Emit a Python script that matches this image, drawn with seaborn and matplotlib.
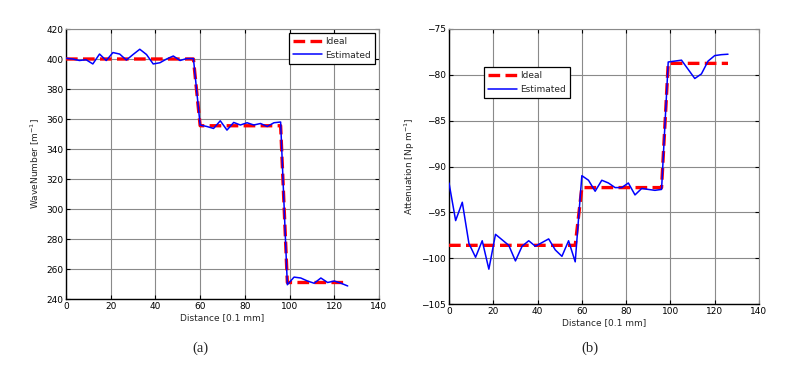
import numpy as np
import pandas as pd
import matplotlib
matplotlib.use("Agg")
import matplotlib.pyplot as plt
import seaborn as sns

sns.set_theme(style="white")
plt.rcParams['font.family'] = ['DejaVu Sans']

# ---- data ----
distance = list(range(0, 127, 3))

wn_ideal = [400.0] * 20 + [355.5] * 13 + [251.0] * 10
wn_est = [400.5, 400.0, 399.0, 399.5, 396.7, 403.3, 399.0, 404.3, 403.3, 399.3,
          403.0, 406.5, 403.0, 396.7, 397.5, 400.0, 402.0, 399.0, 400.3, 400.3,
          356.0, 355.0, 353.7, 358.8, 352.6, 357.7, 356.0, 357.5, 356.0, 357.0,
          355.0, 357.5, 358.0,
          249.5, 254.6, 254.0, 252.0, 250.5, 254.0, 251.0, 252.0, 250.5, 248.7]

att_ideal = [-98.6] * 20 + [-92.3] * 13 + [-78.75] * 10
att_est = [-91.8, -95.9, -93.9, -98.4, -99.9, -98.1, -101.2, -97.4, -98.0, -98.6,
           -100.3, -98.7, -98.1, -98.7, -98.3, -97.9, -99.1, -99.8, -98.1, -100.4,
           -91.0, -91.5, -92.7, -91.5, -91.8, -92.3, -92.3, -91.8, -93.1, -92.4,
           -92.5, -92.6, -92.5,
           -78.6, -78.5, -78.4, -79.4, -80.4, -79.9, -78.5, -77.9, -77.8, -77.75]

df_a = pd.DataFrame({"d": distance, "Ideal": wn_ideal, "Estimated": wn_est})
df_b = pd.DataFrame({"d": distance, "Ideal": att_ideal, "Estimated": att_est})

fig = plt.figure(figsize=(8.12, 3.66), dpi=100)
W, H = 812, 366
ax1 = fig.add_axes([66 / W, 1 - 299 / H, (379 - 66) / W, (299 - 29) / H])
ax2 = fig.add_axes([449 / W, 1 - 304 / H, (759 - 449) / W, (304 - 29) / H])

tick_fs = 6.5
lab_fs = 6.5


def draw(ax, df, ylim, yticks, ylabel, legend_loc):
    sns.lineplot(data=df, x="d", y="Ideal", ax=ax, color="#ff0000", lw=2.4,
                 linestyle=(0, (3.5, 1.6)), label="Ideal", zorder=3)
    sns.lineplot(data=df, x="d", y="Estimated", ax=ax, color="#0000ff", lw=1.1,
                 label="Estimated", zorder=4)
    ax.set_xlim(0, 140)
    ax.set_ylim(*ylim)
    ax.set_xticks(range(0, 141, 20))
    ax.set_yticks(yticks)
    ax.grid(True, color="#8a8a8a", lw=0.8)
    ax.set_axisbelow(True)
    ax.tick_params(direction="in", length=3, width=0.8, labelsize=tick_fs,
                   colors="black", pad=2, top=True, right=True, bottom=True, left=True)
    ax.tick_params(axis="both", which="both", labeltop=False, labelright=False)
    for s in ["left", "bottom"]:
        ax.spines[s].set_color("black")
        ax.spines[s].set_linewidth(1.0)
    for s in ["top", "right"]:
        ax.spines[s].set_color("#8a8a8a")
        ax.spines[s].set_linewidth(0.8)
    ax.set_xlabel("Distance [0.1 mm]", fontsize=lab_fs, labelpad=2)
    ax.set_ylabel(ylabel, fontsize=lab_fs, labelpad=3)
    leg = ax.legend(loc=legend_loc, fontsize=6.5, frameon=True, fancybox=False,
                    edgecolor="black", handlelength=3.2, borderpad=0.45,
                    labelspacing=0.55, handletextpad=0.4, borderaxespad=0.4)
    leg.get_frame().set_linewidth(0.9)
    leg.get_frame().set_alpha(1)
    return leg


draw(ax1, df_a, (240, 420), range(240, 421, 20), "WaveNumber [m$^{-1}$]", "upper right")
leg2 = draw(ax2, df_b, (-105, -75), range(-105, -74, 5), "Attenuation [Np m$^{-1}$]", "upper left")
leg2.set_bbox_to_anchor((0.1, 0.875), transform=ax2.transAxes)

fig.text(200 / W, 1 - 348 / H, "(a)", ha="center", va="center",
         fontsize=10.5, family="Liberation Serif")
fig.text(590 / W, 1 - 348 / H, "(b)", ha="center", va="center",
         fontsize=10.5, family="Liberation Serif")

fig.savefig("out.png", dpi=100, facecolor="white")
